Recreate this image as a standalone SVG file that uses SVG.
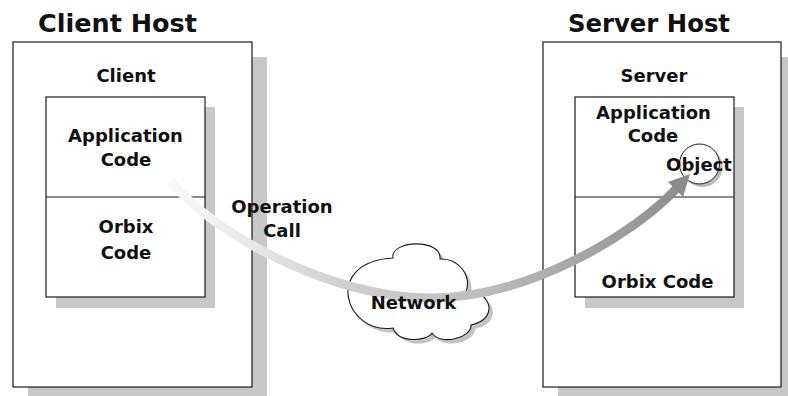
<svg xmlns="http://www.w3.org/2000/svg" width="788" height="396" viewBox="0 0 788 396">
<defs>
<style>
.box{fill:#fff;stroke:#1a1a1a;stroke-width:1.2}
.shadow{fill:#c8c8c8}
.t{font-family:"DejaVu Sans",sans-serif;font-weight:bold;font-size:18px;fill:#111;text-anchor:middle}
.h{font-size:24px}
.div{stroke:#1a1a1a;stroke-width:1.2}
</style>
<linearGradient id="arcGrad" gradientUnits="userSpaceOnUse" x1="170" y1="0" x2="690" y2="0">
<stop offset="0" stop-color="#fafafa"/>
<stop offset="0.17" stop-color="#e6e6e6"/>
<stop offset="0.33" stop-color="#d0d0d0"/>
<stop offset="0.6" stop-color="#bdbdbd"/>
<stop offset="1" stop-color="#8c8c8c"/>
</linearGradient>
</defs>
<rect width="788" height="396" fill="#fff"/>

<g id="client-host">
<rect class="shadow" x="28" y="57" width="239" height="345"/>
<rect class="box" x="13" y="42" width="239" height="345"/>
<text class="t h" x="117.5" y="32" textLength="159" lengthAdjust="spacingAndGlyphs">Client Host</text>
<text class="t" x="126" y="82">Client</text>
</g>

<g id="client">
<rect class="shadow" x="56" y="107" width="159" height="201"/>
<rect class="box" x="46" y="97" width="159" height="200"/>
<line class="div" x1="46" y1="197" x2="205" y2="197"/>
<text class="t" x="125.5" y="142">Application</text>
<text class="t" x="126" y="166">Code</text>
<text class="t" x="126" y="233">Orbix</text>
<text class="t" x="126" y="259">Code</text>
</g>

<g id="server-host">
<rect class="shadow" x="558" y="57" width="238" height="345"/>
<rect class="box" x="543" y="42" width="238" height="345"/>
<text class="t h" x="649" y="32" textLength="162" lengthAdjust="spacingAndGlyphs">Server Host</text>
<text class="t" x="654" y="82">Server</text>
</g>

<g id="server">
<rect class="shadow" x="585" y="107" width="159" height="201"/>
<rect class="box" x="575" y="97" width="159" height="200"/>
<line class="div" x1="575" y1="197" x2="734" y2="197"/>
<text class="t" x="653.5" y="119">Application</text>
<text class="t" x="653" y="142">Code</text>
<text class="t" x="657.5" y="288">Orbix Code</text>
</g>

<g id="object">
<circle cx="702.5" cy="167" r="20" fill="#bdbdbd"/>
<circle cx="699.5" cy="164" r="20" fill="#fff" stroke="#1a1a1a" stroke-width="1"/>
</g>

<g id="network">
<path transform="translate(4,4)" fill="#c4c4c4" d="M393,258 C390,240 442,238 440,259 C458,258 472,275 466,292 C488,288 502,318 471,325 C472,338 440,346 432,333 C426,342 398,343 393,328 C345,335 322,262 393,258 Z"/>
<path fill="#fff" stroke="#1a1a1a" stroke-width="1.1" d="M393,258 C390,240 442,238 440,259 C458,258 472,275 466,292 C488,288 502,318 471,325 C472,338 440,346 432,333 C426,342 398,343 393,328 C345,335 322,262 393,258 Z"/>
</g>

<g id="connectors">
<path d="M170,180 C210,232 330,298 430,298 C530,298 635,233 676,189" fill="none" stroke="url(#arcGrad)" stroke-width="9" stroke-linecap="butt"/>
<polygon points="690,174 668,182 683,197" fill="#8c8c8c"/>
<text class="t" x="282" y="213">Operation</text>
<text class="t" x="282" y="237">Call</text>
</g>

<text class="t" x="413.5" y="308.5">Network</text>
<text class="t" x="699" y="171">Object</text>
</svg>
